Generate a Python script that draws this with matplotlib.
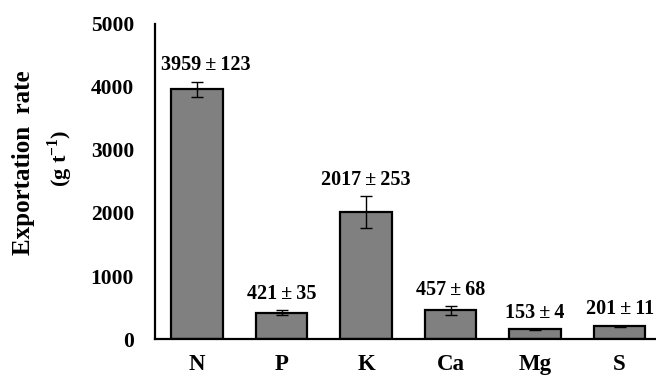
import matplotlib
matplotlib.use("Agg")
import matplotlib.pyplot as plt

# Nutrient exportation rates (mean ± SD)
nutrients = ["N", "P", "K", "Ca", "Mg", "S"]
rates = [3959, 421, 2017, 457, 153, 201]
errors = [123, 35, 253, 68, 4, 11]
y_ticks = [0, 1000, 2000, 3000, 4000, 5000]

# horizontal nudge (points) for each value label
label_shift = [6, 0, 0, 0, 0, 0]

plt.rcParams["font.family"] = ["Liberation Serif", "DejaVu Serif"]
plt.rcParams["font.weight"] = "bold"
plt.rcParams["mathtext.fontset"] = "custom"
plt.rcParams["mathtext.rm"] = "Liberation Serif:bold"
plt.rcParams["mathtext.bf"] = "Liberation Serif:bold"

fig = plt.figure(figsize=(6.56, 3.78), dpi=100)
ax = fig.add_axes([0.236, 0.103, 0.764, 0.834])

x = list(range(len(nutrients)))
ax.bar(x, rates, width=0.61, color="#808080", edgecolor="black", linewidth=1.6,
       yerr=errors, error_kw=dict(ecolor="black", elinewidth=1.0, capsize=4, capthick=1.0),
       zorder=2)

for xi, v, e, dx in zip(x, rates, errors, label_shift):
    ax.annotate(f"{v}\u2009\u00b1\u2009{e}", xy=(xi, v + e), xytext=(dx, 4.5),
                textcoords="offset points", ha="center", va="bottom",
                fontsize=14.5, fontweight="bold")

ax.set_xlim(-0.5, 5.43)
ax.set_ylim(0, 5000)
ax.set_yticks(y_ticks)
ax.set_yticklabels([str(t) for t in y_ticks], fontsize=15.5, fontweight="bold")
ax.set_xticks(x)
ax.set_xticklabels(nutrients, fontsize=16.5, fontweight="bold")
ax.tick_params(axis="y", length=0, pad=15)
ax.tick_params(axis="x", length=0, pad=11)

for side in ("top", "right"):
    ax.spines[side].set_visible(False)
for side in ("left", "bottom"):
    ax.spines[side].set_linewidth(1.6)

fig.text(24 / 656, 1 - 163 / 378, "Exportation  rate", rotation=90, ha="center", va="center",
         fontsize=18, fontweight="bold")
fig.text(60 / 656, 1 - 158 / 378, "(g t$^{\\mathbf{-1}}$)", rotation=90, ha="center",
         va="center", fontsize=16, fontweight="bold")

fig.savefig("out.png", dpi=100)
